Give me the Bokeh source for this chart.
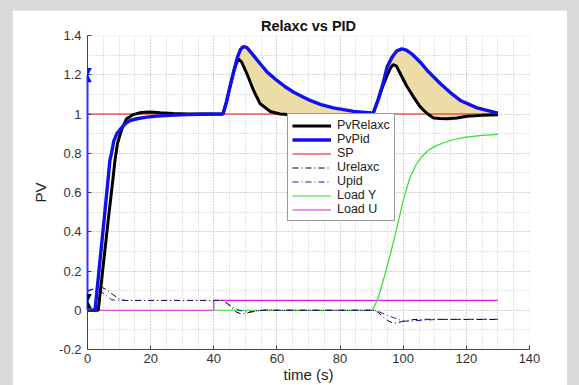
import numpy as np
from bokeh.plotting import figure
from bokeh.layouts import column
from bokeh.models import (Range1d, FixedTicker, CustomJSTickFormatter, Legend, LegendItem, Label)
from bokeh.embed import file_html
from bokeh.resources import INLINE

# ---------------- data ----------------
t_relax = [0, 3.4, 5, 6.5, 8, 8.7, 9.5, 10.8, 12.4, 14.5, 17, 19.8, 23, 27.2, 32, 42.9,
           44, 45, 46.2, 47, 47.8, 48.8, 50.5, 52.6, 54.7, 57.9, 61, 67, 75, 85, 90.4,
           92, 93.5, 95, 96, 96.8, 97.8, 99.1, 101, 103.3, 105, 106.5, 108, 109.6, 111.5,
           113.9, 117, 120.2, 125, 130]
pv_relax = [0, 0, 0.23, 0.45, 0.66, 0.764, 0.85, 0.92, 0.976, 0.997, 1.008, 1.01, 1.006, 1.003,
            1.0, 1.0, 1.06, 1.13, 1.21, 1.25, 1.281, 1.265, 1.205, 1.12, 1.052, 1.013, 1.0,
            0.994, 0.995, 0.998, 1.0, 1.07, 1.14, 1.2, 1.235, 1.251, 1.245, 1.205, 1.145,
            1.086, 1.045, 1.018, 0.997, 0.98, 0.977, 0.976, 0.98, 0.988, 0.993, 0.996]

t_pid = [0, 2.4, 4, 5.5, 7.1, 7.6, 8.3, 9.3, 10.3, 11.8, 13.5, 16, 18.8, 22, 26.2, 31.5, 36,
         42.9, 44, 45, 46.2, 47.5, 48.5, 49.4, 50.5, 52.5, 54.7, 57, 60, 62.5, 65.3, 70.5,
         74, 77.9, 84.3, 89.9, 90.4, 92, 93.5, 94.9, 96.5, 98, 99.6, 101, 103, 105.4, 108,
         111.8, 115, 118.1, 123.4, 130]
pv_pid = [0, 0, 0.26, 0.5, 0.764, 0.8, 0.86, 0.9, 0.92, 0.948, 0.967, 0.977, 0.984, 0.989,
          0.993, 0.997, 0.999, 1.0, 1.06, 1.13, 1.21, 1.29, 1.33, 1.344, 1.338, 1.3, 1.256,
          1.212, 1.171, 1.14, 1.111, 1.069, 1.048, 1.031, 1.013, 1.005, 1.0, 1.07, 1.15, 1.24,
          1.29, 1.322, 1.332, 1.326, 1.302, 1.264, 1.215, 1.154, 1.108, 1.069, 1.031, 1.004]

t_sp = [0, 130]
sp = [1, 1]

t_urelax = [0, 2, 4.5, 6, 8, 10.3, 12, 43, 44, 45.5, 47, 48.5, 50, 52, 54, 56, 60, 91, 92, 93,
            94, 95, 96, 97, 98, 99.5, 101, 103, 106, 110, 120, 130]
u_relax = [0.1, 0.108, 0.117, 0.105, 0.08, 0.055, 0.05, 0.05, 0.04, 0.015, -0.008, -0.018,
           -0.016, -0.008, -0.002, 0.0, 0.0, 0.0, -0.01, -0.025, -0.04, -0.052, -0.06, -0.066,
           -0.064, -0.058, -0.052, -0.048, -0.046, -0.046, -0.047, -0.047]

t_upid = [0, 1.2, 2.4, 4, 5.5, 7.7, 10, 42.5, 44, 46.2, 48, 50.5, 53, 56.8, 60, 91, 93, 95, 97,
          99, 100, 103, 105, 108, 112, 120, 130]
u_pid = [0.095, 0.105, 0.113, 0.1, 0.08, 0.053, 0.05, 0.05, 0.036, 0.016, 0.0, -0.01, -0.006,
         0.002, 0.0, 0.0, -0.012, -0.027, -0.038, -0.05, -0.056, -0.055, -0.052, -0.049, -0.047,
         -0.046, -0.046]

t_loady = [40, 90.3, 92, 94, 96, 98, 100, 102, 104, 106, 108, 110, 113, 116, 120, 125, 130]
load_y = [0, 0, 0.06, 0.17, 0.29, 0.42, 0.56, 0.67, 0.74, 0.785, 0.815, 0.835, 0.855, 0.87,
          0.882, 0.891, 0.896]

t_loadu = [0, 40, 40, 130]
load_u = [0, 0, 0.05, 0.05]

# scope cursor markers
cursor_t = [0, 0]
cursor_y = [1.2, 0.05]
cursor_colors = ["#1010f0", "#000000"]
cursor_line_t = [0, 0]
cursor_line_y = [0, 1.2]

x_ticks = [0, 20, 40, 60, 80, 100, 120, 140]
x_minor = [v for v in range(0, 141, 5)]
y_ticks = [-0.2, 0, 0.2, 0.4, 0.6, 0.8, 1.0, 1.2, 1.4]
y_minor = [-0.2, -0.1, 0, 0.1, 0.2, 0.3, 0.4, 0.5, 0.6, 0.7, 0.8, 0.9, 1.0, 1.1, 1.2, 1.3, 1.4]

fill_start = 42.9

# ---------------- figure ----------------
FONT = "Liberation Sans"
W, H = 555, 375
BL, BR, BT, BB = 75, 38, 25, 36
X0, X1, Y0, Y1 = 0, 140, -0.2, 1.4
p = figure(width=W, height=H, output_backend="svg", toolbar_location=None,
           x_range=Range1d(X0, X1), y_range=Range1d(Y0, Y1),
           min_border_left=BL, min_border_right=BR, min_border_top=BT, min_border_bottom=BB,
           border_fill_color="white", background_fill_color="white",
           outline_line_color=None, margin=(10, 12, 0, 12))

p.title.text = "Relaxc vs PID"
p.title.align = "center"
p.title.text_font = FONT
p.title.text_font_size = "14.5px"
p.title.text_font_style = "bold"
p.title.text_color = "#111111"
p.title.standoff = 3

# fill between PvPid and PvRelaxc
tp = np.array(t_pid); yp = np.array(pv_pid)
tr = np.array(t_relax); yr = np.array(pv_relax)
mp = tp >= fill_start
mr = tr >= fill_start
px = list(tp[mp]) + list(tr[mr][::-1])
py = list(yp[mp]) + list(yr[mr][::-1])
p.patch(px, py, fill_color="#ecdca6", line_color=None)

r_sp = p.line(t_sp, sp, color="#e01010", line_width=1)
r_loadu = p.line(t_loadu, load_u, color="#e020e0", line_width=1.2)
r_loady = p.line(t_loady, load_y, color="#33dd33", line_width=1.2)
r_urelax = p.line(t_urelax, u_relax, color="#000000", line_width=1, line_dash="6 3 1 3")
r_upid = p.line(t_upid, u_pid, color="#1a1a9a", line_width=1, line_dash="6 3 1 3")
r_relax = p.line(t_relax, pv_relax, color="#000000", line_width=3)
r_pid = p.line(t_pid, pv_pid, color="#1010f0", line_width=3.4)
r_cur = p.line(cursor_line_t, cursor_line_y, color="#3030ff", line_width=2)
r_cur.level = "overlay"

# cursor markers (hourglass-like), placed in canvas units so they are not clipped by the frame
frame_h = H - BT - BB
frame_w = W - BL - BR
for ct, cy, cc in zip(cursor_t, cursor_y, cursor_colors):
    cx_px = BL + (ct - X0) / (X1 - X0) * frame_w
    cy_px = BT + (Y1 - cy) / (Y1 - Y0) * frame_h
    for sym, dy in (("\u25bc", -3), ("\u25b2", 3)):
        p.add_layout(Label(x=cx_px, y=cy_px + dy, x_units="canvas", y_units="canvas",
                           text=sym, text_align="center", text_baseline="middle",
                           text_color=cc, text_font="DejaVu Sans",
                           text_font_size="11px", level="overlay"))

# axes
for ax in (p.xaxis[0], p.yaxis[0]):
    ax.axis_line_color = "#444444"
    ax.major_tick_line_color = "#444444"
    ax.major_tick_in = 4
    ax.major_tick_out = 0
    ax.minor_tick_in = 0
    ax.minor_tick_out = 0
    ax.major_label_text_font = FONT
    ax.major_label_text_font_size = "13px"
    ax.major_label_text_color = "#333333"
    ax.axis_label_text_font = FONT
    ax.axis_label_text_font_size = "15px"
    ax.axis_label_text_font_style = "normal"
    ax.axis_label_text_color = "#222222"

p.xaxis.ticker = FixedTicker(ticks=x_ticks, minor_ticks=x_minor)
p.yaxis.ticker = FixedTicker(ticks=y_ticks, minor_ticks=y_minor)
p.yaxis.formatter = CustomJSTickFormatter(code="return String(Math.round(tick*10)/10)")
p.xaxis.axis_label = "time (s)"
p.yaxis.axis_label = "PV"
p.xaxis.major_label_standoff = 4
p.xaxis.axis_label_standoff = 0
p.yaxis.major_label_standoff = 6
p.yaxis.axis_label_standoff = 7

for g in (p.xgrid[0], p.ygrid[0]):
    g.grid_line_color = "#c4c4c4"
    g.grid_line_dash = "1 2"
    g.grid_line_width = 1
    g.minor_grid_line_color = "#c4c4c4"
    g.minor_grid_line_dash = "1 2"
    g.minor_grid_line_width = 1

legend = Legend(items=[
    LegendItem(label="PvRelaxc", renderers=[r_relax]),
    LegendItem(label="PvPid", renderers=[r_pid]),
    LegendItem(label="SP", renderers=[r_sp]),
    LegendItem(label="Urelaxc", renderers=[r_urelax]),
    LegendItem(label="Upid", renderers=[r_upid]),
    LegendItem(label="Load Y", renderers=[r_loady]),
    LegendItem(label="Load U", renderers=[r_loadu]),
], location=(200, 128))
legend.label_text_font = FONT
legend.label_text_font_size = "12.5px"
legend.label_text_color = "#222222"
legend.label_height = 13
legend.glyph_height = 13
legend.glyph_width = 39
legend.spacing = 0
legend.padding = 4
legend.margin = 0
legend.label_standoff = 6
legend.border_line_color = "#333333"
legend.border_line_width = 1
legend.background_fill_alpha = 1
p.add_layout(legend, "center")

layout = column(p, width=579, height=385,
                styles={"background-color": "#d9d9d9"})
open("out.html", "w").write(file_html(layout, INLINE))
